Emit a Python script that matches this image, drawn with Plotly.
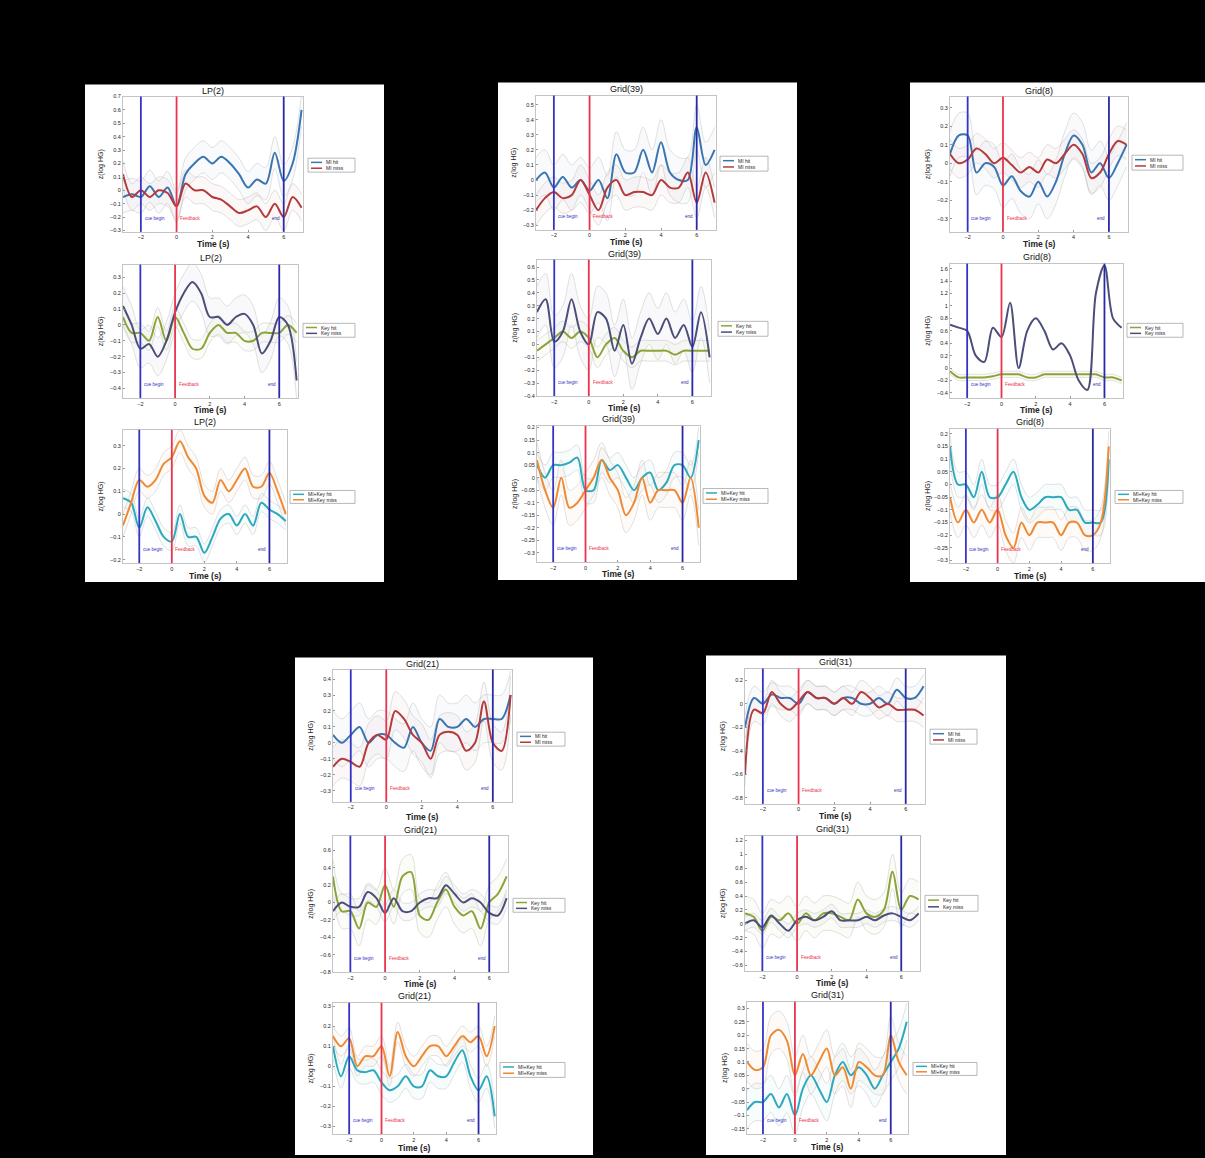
import plotly.graph_objects as go

W, H = 1205, 1158

# ---------------- data ----------------
t = [-3, -2.5, -2, -1.5, -1, -0.5, 0, 0.5, 1, 1.5, 2, 2.5, 3, 3.5, 4, 4.5, 5, 5.5, 6, 6.5, 7]
x_ticks = [-2, 0, 2, 4, 6]
event_times = [-2, 0, 6]
event_labels = ["cue begin", "Feedback", "end"]

lp2_mi_hit = [-0.05, -0.03, -0.05, 0.03, -0.05, 0.02, -0.12, 0.12, 0.2, 0.25, 0.2, 0.25, 0.2, 0.12, 0.02, 0.08, 0.05, 0.28, 0.07, 0.2, 0.6]
lp2_mi_miss = [0.12, -0.05, 0.0, -0.05, 0.0, -0.02, -0.12, 0.05, 0.0, 0.0, -0.05, -0.07, -0.12, -0.17, -0.15, -0.12, -0.2, -0.1, -0.2, -0.05, -0.13]
lp2_key_hit = [0.05, -0.05, -0.05, -0.1, 0.05, -0.1, 0.05, -0.05, -0.15, -0.15, -0.05, 0.0, -0.05, -0.05, -0.1, -0.1, -0.05, -0.05, -0.05, 0.0, -0.05]
lp2_key_miss = [0.12, 0.0, -0.15, -0.12, -0.2, -0.1, 0.08, 0.2, 0.27, 0.2, 0.05, 0.05, 0.0, 0.05, 0.07, 0.0, -0.18, -0.1, 0.05, 0.0, -0.35]
lp2_mk_hit = [0.07, 0.05, -0.06, 0.03, -0.03, -0.1, -0.12, 0.0, -0.1, -0.1, -0.17, -0.1, -0.02, 0.0, -0.05, 0.0, -0.05, 0.05, 0.02, 0.0, -0.03]
lp2_mk_miss = [-0.05, 0.05, 0.15, 0.12, 0.15, 0.22, 0.25, 0.32, 0.25, 0.2, 0.08, 0.05, 0.15, 0.1, 0.15, 0.2, 0.12, 0.12, 0.18, 0.1, 0.0]

g39_mi_hit = [0.0, 0.05, -0.05, 0.02, -0.05, 0.0, -0.07, 0.0, -0.12, 0.17, 0.05, 0.05, 0.2, 0.05, 0.25, 0.05, 0.0, 0.0, 0.35, 0.1, 0.2]
g39_mi_miss = [-0.2, -0.12, -0.08, -0.12, -0.1, 0.0, -0.1, -0.2, -0.05, 0.0, -0.1, -0.08, -0.08, -0.1, 0.0, -0.05, -0.05, 0.05, -0.15, 0.05, -0.15]
g39_key_hit = [-0.05, 0.0, 0.05, 0.1, 0.05, 0.1, 0.05, -0.1, 0.0, 0.05, -0.05, -0.1, -0.05, -0.05, -0.05, -0.05, -0.08, -0.05, -0.05, -0.05, -0.05]
g39_key_miss = [0.25, 0.35, 0.02, 0.1, 0.35, 0.1, 0.0, 0.25, 0.2, -0.05, 0.15, -0.15, 0.05, 0.2, 0.08, 0.2, 0.05, 0.15, -0.02, 0.25, -0.1]
g39_mk_hit = [0.05, 0.0, 0.05, 0.05, 0.06, 0.08, -0.05, -0.05, 0.07, 0.03, 0.05, 0.0, -0.05, 0.0, 0.02, -0.05, -0.02, 0.05, 0.05, 0.0, 0.15]
g39_mk_miss = [0.07, -0.05, -0.12, 0.0, -0.12, -0.1, -0.05, 0.0, 0.07, 0.0, -0.05, -0.15, -0.1, 0.0, -0.1, -0.05, -0.05, -0.05, -0.1, 0.0, -0.2]

g8_mi_hit = [0.05, 0.15, 0.15, -0.05, 0.0, -0.02, -0.12, -0.07, -0.15, -0.18, -0.1, -0.18, -0.1, 0.05, 0.15, 0.1, -0.05, 0.0, -0.08, 0.0, 0.1]
g8_mi_miss = [0.05, 0.0, 0.02, 0.08, 0.05, 0.0, 0.03, -0.01, -0.05, -0.02, -0.05, 0.02, 0.0, 0.05, 0.1, 0.05, -0.08, -0.05, 0.05, 0.12, 0.1]
g8_key_hit = [-0.05, -0.15, -0.15, -0.15, -0.15, -0.13, -0.1, -0.1, -0.1, -0.15, -0.15, -0.1, -0.1, -0.1, -0.1, -0.1, -0.1, -0.1, -0.15, -0.15, -0.2]
g8_key_miss = [0.7, 0.65, 0.6, 0.2, 0.1, 0.65, 0.5, 1.05, 0.0, 0.6, 0.8, 0.6, 0.3, 0.4, 0.2, -0.2, -0.35, 1.2, 1.65, 0.8, 0.65]
g8_mk_hit = [0.15, 0.0, 0.0, -0.05, 0.05, -0.05, -0.05, 0.0, 0.05, -0.05, -0.1, -0.08, -0.05, -0.05, -0.05, -0.1, -0.1, -0.15, -0.15, -0.15, 0.1]
g8_mk_miss = [-0.05, -0.15, -0.1, -0.15, -0.1, -0.15, -0.1, -0.2, -0.25, -0.15, -0.2, -0.15, -0.15, -0.15, -0.2, -0.15, -0.15, -0.2, -0.2, -0.15, 0.15]

g21_mi_hit = [0.05, 0.0, 0.05, 0.1, 0.0, 0.05, 0.05, 0.0, -0.03, 0.1, 0.0, -0.05, 0.15, 0.1, 0.1, 0.15, 0.1, 0.15, 0.15, 0.15, 0.3]
g21_mi_miss = [-0.15, -0.1, -0.12, -0.15, 0.0, 0.05, 0.02, 0.2, 0.15, 0.05, 0.0, -0.1, 0.05, 0.07, 0.05, -0.05, 0.0, 0.26, 0.0, -0.05, 0.3]
g21_key_hit = [0.3, -0.1, -0.1, -0.3, 0.0, -0.05, 0.2, -0.05, 0.3, 0.35, -0.15, -0.2, 0.0, 0.15, -0.05, -0.15, -0.1, -0.3, 0.0, 0.1, 0.3]
g21_key_miss = [-0.1, 0.0, -0.05, -0.05, 0.12, 0.05, -0.12, 0.05, -0.1, -0.1, 0.0, 0.05, 0.05, 0.2, 0.1, 0.0, 0.05, 0.0, -0.12, -0.15, 0.05]
g21_mk_hit = [0.1, -0.05, 0.05, -0.02, -0.03, -0.02, -0.08, -0.12, -0.1, -0.05, -0.1, -0.1, -0.02, -0.05, -0.05, 0.02, 0.08, -0.05, -0.12, -0.05, -0.25]
g21_mk_miss = [0.15, 0.1, 0.14, 0.0, 0.05, 0.05, 0.1, -0.05, 0.17, 0.05, 0.0, 0.05, 0.1, 0.1, 0.05, 0.1, 0.15, 0.12, 0.15, 0.05, 0.2]

g31_mi_hit = [-0.2, 0.05, 0.0, 0.08, 0.05, 0.05, 0.0, 0.1, 0.05, 0.05, 0.0, 0.05, 0.05, 0.0, 0.0, 0.05, 0.0, 0.12, 0.05, 0.05, 0.15]
g31_mi_miss = [-0.6, -0.05, -0.08, 0.1, 0.0, -0.05, 0.02, 0.1, 0.05, 0.05, 0.0, 0.05, 0.0, 0.1, 0.05, -0.03, 0.0, -0.05, -0.05, -0.05, -0.1]
g31_key_hit = [0.15, 0.1, -0.1, 0.1, 0.05, 0.15, 0.0, 0.15, 0.05, 0.15, 0.15, 0.1, 0.05, 0.35, 0.15, 0.1, 0.2, 0.75, 0.2, 0.4, 0.35]
g31_key_miss = [0.0, 0.05, -0.05, 0.12, 0.0, -0.1, 0.05, 0.1, 0.05, 0.1, 0.18, 0.05, 0.05, 0.05, 0.1, 0.05, 0.12, 0.15, 0.1, 0.05, 0.15]
g31_mk_hit = [-0.08, -0.05, -0.05, -0.02, -0.07, -0.02, -0.1, 0.0, 0.05, 0.0, -0.05, 0.05, 0.1, 0.05, 0.08, 0.05, 0.0, 0.05, 0.1, 0.15, 0.25]
g31_mk_miss = [0.1, 0.07, 0.08, 0.2, 0.22, 0.18, 0.05, 0.13, 0.05, 0.1, 0.15, 0.05, 0.08, 0.0, 0.1, 0.08, 0.05, 0.05, 0.2, 0.1, 0.05]

# standard-error half widths
sem_lp2 = [0.12, 0.1, 0.06, 0.12, 0.04, 0.05]
sem_g39 = [0.15, 0.1, 0.08, 0.2, 0.05, 0.07]
sem_g8 = [0.12, 0.08, 0.05, 0.0, 0.05, 0.06]
sem_g21 = [0.15, 0.12, 0.2, 0.1, 0.06, 0.05]
sem_g31 = [0.1, 0.1, 0.25, 0.1, 0.07, 0.07]

legend_names = {
    "MI": ["MI hit", "MI miss"],
    "Key": ["Key hit", "Key miss"],
    "MK": ["MI+Key hit", "MI+Key miss"],
}

# ---------------- styles / layout ----------------
colors = {
    "MI": ["#3a74b2", "#b43a3c"],
    "Key": ["#8aa43a", "#4a4e78"],
    "MK": ["#2ea8bd", "#ee8a34"],
}
tints = {
    "MI": ["rgba(58,118,182,0.035)", "rgba(184,58,60,0.035)"],
    "Key": ["rgba(141,168,58,0.04)", "rgba(74,78,120,0.03)"],
    "MK": ["rgba(46,170,191,0.04)", "rgba(240,140,52,0.04)"],
}
band_line = "rgba(175,175,175,0.45)"
event_colors = ["#3434c4", "#e8344e", "#2a2aa8"]

panels_px = [(85, 384, 82, 582), (498, 797, 80, 580), (910, 1205, 80, 582),
             (295, 593, 658, 1158), (706, 1006, 656, 1158)]

# (title, kind, hit, miss, sem_hit, sem_miss, l, r, t, b, yrange, tick0, dtick, title_y, time_y, legend(l, r, t, b))
subplots = [
    ("LP(2)", "MI", lp2_mi_hit, lp2_mi_miss, sem_lp2[0], sem_lp2[1], 123, 303, 94, 230, [-0.31, 0.7], -0.3, 0.1, 88, 242, (308, 355, 156, 170)),
    ("LP(2)", "Key", lp2_key_hit, lp2_key_miss, sem_lp2[2], sem_lp2[3], 123, 298, 263, 397, [-0.46, 0.38], -0.4, 0.1, 256, 409, (303, 355, 322, 336)),
    ("LP(2)", "MK", lp2_mk_hit, lp2_mk_miss, sem_lp2[4], sem_lp2[5], 123, 287, 429, 563, [-0.215, 0.37], -0.2, 0.1, 421, 576, (290, 355, 490, 503)),
    ("Grid(39)", "MI", g39_mi_hit, g39_mi_miss, sem_g39[0], sem_g39[1], 536, 716, 93, 228, [-0.33, 0.56], -0.3, 0.1, 86, 240, (720, 768, 154, 169)),
    ("Grid(39)", "Key", g39_key_hit, g39_key_miss, sem_g39[2], sem_g39[3], 537, 711, 258, 395, [-0.40, 0.657], -0.3, 0.1, 252, 407, (718, 768, 320, 335)),
    ("Grid(39)", "MK", g39_mk_hit, g39_mk_miss, sem_g39[4], sem_g39[5], 537, 700, 425, 562, [-0.337, 0.207], -0.3, 0.05, 418, 574, (703, 768, 488, 503)),
    ("Grid(8)", "MI", g8_mi_hit, g8_mi_miss, sem_g8[0], sem_g8[1], 950, 1128, 94, 230, [-0.37, 0.36], -0.3, 0.1, 88, 242, (1132, 1183, 153, 168)),
    ("Grid(8)", "Key", g8_key_hit, g8_key_miss, sem_g8[2], sem_g8[3], 950, 1123, 262, 397, [-0.48, 1.68], -0.4, 0.2, 255, 409, (1127, 1183, 322, 336)),
    ("Grid(8)", "MK", g8_mk_hit, g8_mk_miss, sem_g8[4], sem_g8[5], 950, 1110, 428, 563, [-0.31, 0.22], -0.3, 0.05, 421, 576, (1115, 1183, 490, 503)),
    ("Grid(21)", "MI", g21_mi_hit, g21_mi_miss, sem_g21[0], sem_g21[1], 333, 512, 670, 803, [-0.37, 0.46], -0.3, 0.1, 664, 818, (517, 565, 733, 747)),
    ("Grid(21)", "Key", g21_key_hit, g21_key_miss, sem_g21[2], sem_g21[3], 333, 508, 837, 974, [-0.8, 0.77], -0.8, 0.2, 831, 986, (513, 565, 900, 914)),
    ("Grid(21)", "MK", g21_mk_hit, g21_mk_miss, sem_g21[4], sem_g21[5], 333, 496, 1005, 1137, [-0.338, 0.316], -0.3, 0.1, 998, 1151, (500, 565, 1065, 1080)),
    ("Grid(31)", "MI", g31_mi_hit, g31_mi_miss, sem_g31[0], sem_g31[1], 745, 925, 669, 805, [-0.85, 0.30], -0.8, 0.2, 662, 817, (930, 977, 730, 745)),
    ("Grid(31)", "Key", g31_key_hit, g31_key_miss, sem_g31[2], sem_g31[3], 745, 920, 837, 973, [-0.68, 1.27], -0.6, 0.2, 830, 985, (925, 978, 897, 913)),
    ("Grid(31)", "MK", g31_mk_hit, g31_mk_miss, sem_g31[4], sem_g31[5], 747, 908, 1004, 1137, [-0.17, 0.325], -0.15, 0.05, 997, 1150, (913, 977, 1065, 1078)),
]

FONT = "Liberation Sans, Arial, sans-serif"


def fx(x):
    return x / W


def fy(y):
    return 1 - y / H


fig = go.Figure()
shapes = []
annotations = []

for (pl, pr, pt, pb) in panels_px:
    shapes.append(dict(type="rect", xref="paper", yref="paper", x0=fx(pl), x1=fx(pr),
                       y0=fy(pb), y1=fy(pt), fillcolor="white", line=dict(width=0), layer="below"))

layout_axes = {}
for i, sp in enumerate(subplots):
    (title, kind, hit, miss, s_hit, s_miss, l, r, tp, b, yr, tick0, dtick, ty, timey, leg) = sp
    n = i + 1
    xa = "x" if n == 1 else f"x{n}"
    ya = "y" if n == 1 else f"y{n}"
    xkey = "xaxis" if n == 1 else f"xaxis{n}"
    ykey = "yaxis" if n == 1 else f"yaxis{n}"

    axis_common = dict(showgrid=False, zeroline=False, showline=True, mirror=True,
                       linecolor="#c4c4c4", linewidth=1, ticks="inside", ticklen=2,
                       tickcolor="#999999", tickfont=dict(size=5.5, color="#222222", family=FONT))
    layout_axes[xkey] = dict(axis_common, domain=[fx(l), fx(r)], range=[-3, 7.08],
                             tickvals=x_ticks, anchor=ya)
    layout_axes[ykey] = dict(axis_common, domain=[fy(b), fy(tp)], range=yr,
                             tick0=tick0, dtick=dtick, anchor=xa)

    series = [(hit, s_hit, 0), (miss, s_miss, 1)]
    # bands
    for vals, s, k in series:
        if s <= 0:
            continue
        up = [v + s for v in vals]
        lo = [v - s for v in vals]
        fig.add_trace(go.Scatter(x=t, y=up, xaxis=xa, yaxis=ya, mode="lines",
                                 line=dict(color=band_line, width=0.8, shape="spline"),
                                 hoverinfo="skip", showlegend=False))
        fig.add_trace(go.Scatter(x=t, y=lo, xaxis=xa, yaxis=ya, mode="lines", fill="tonexty",
                                 fillcolor=tints[kind][k],
                                 line=dict(color=band_line, width=0.8, shape="spline"),
                                 hoverinfo="skip", showlegend=False))
    # main lines
    for vals, s, k in series:
        fig.add_trace(go.Scatter(x=t, y=vals, xaxis=xa, yaxis=ya, mode="lines",
                                 line=dict(color=colors[kind][k], width=2, shape="spline", smoothing=0.9),
                                 name=legend_names[kind][k], showlegend=False))

    # event lines
    for et, ec in zip(event_times, event_colors):
        shapes.append(dict(type="line", xref=xa, yref=f"{ya} domain", x0=et, x1=et, y0=0, y1=1,
                           line=dict(color=ec, width=1.8)))
    # event labels
    annotations.append(dict(x=event_times[0] + 0.1, y=0.1, xref=xa, yref=f"{ya} domain",
                            text=event_labels[0], showarrow=False, xanchor="left", yanchor="middle",
                            font=dict(size=4.5, color=event_colors[0], family=FONT)))
    annotations.append(dict(x=event_times[1] + 0.1, y=0.1, xref=xa, yref=f"{ya} domain",
                            text=event_labels[1], showarrow=False, xanchor="left", yanchor="middle",
                            font=dict(size=4.5, color=event_colors[1], family=FONT)))
    annotations.append(dict(x=event_times[2] - 0.1, y=0.1, xref=xa, yref=f"{ya} domain",
                            text=event_labels[2], showarrow=False, xanchor="right", yanchor="middle",
                            font=dict(size=4.5, color=event_colors[2], family=FONT)))

    # titles and axis labels
    annotations.append(dict(x=fx((l + r) / 2), y=fy(ty), xref="paper", yref="paper", text=title,
                            showarrow=False, xanchor="center", yanchor="middle",
                            font=dict(size=9, color="#111111", family=FONT)))
    annotations.append(dict(x=fx((l + r) / 2), y=fy(timey), xref="paper", yref="paper", text="<b>Time (s)</b>",
                            showarrow=False, xanchor="center", yanchor="middle",
                            font=dict(size=8.5, color="#222222", family=FONT)))
    annotations.append(dict(x=fx(l - 22), y=fy((tp + b) / 2), xref="paper", yref="paper", text="z(log HG)",
                            showarrow=False, xanchor="center", yanchor="middle", textangle=-90,
                            font=dict(size=7, color="#222222", family=FONT)))

    # legend box
    lx0, lx1, ly0, ly1 = leg
    shapes.append(dict(type="rect", xref="paper", yref="paper", x0=fx(lx0), x1=fx(lx1),
                       y0=fy(ly1), y1=fy(ly0), fillcolor="white", line=dict(color="#9a9a9a", width=0.7)))
    for k in range(2):
        rowy = ly0 + (ly1 - ly0) * (0.3 if k == 0 else 0.72)
        shapes.append(dict(type="line", xref="paper", yref="paper", x0=fx(lx0 + 3), x1=fx(lx0 + 14),
                           y0=fy(rowy), y1=fy(rowy), line=dict(color=colors[kind][k], width=1.5)))
        annotations.append(dict(x=fx(lx0 + 16), y=fy(rowy), xref="paper", yref="paper",
                                text=legend_names[kind][k], showarrow=False, xanchor="left",
                                yanchor="middle", font=dict(size=5, color="#222222", family=FONT)))

fig.update_layout(
    width=W, height=H, margin=dict(l=0, r=0, t=0, b=0),
    paper_bgcolor="black", plot_bgcolor="white",
    showlegend=False, shapes=shapes, annotations=annotations,
    **layout_axes,
)

fig.write_html("out.html", config={"displayModeBar": False},
               post_script="document.body.style.margin='0';document.body.style.padding='0';"
                           "document.body.style.background='black';document.body.style.overflow='hidden';")
